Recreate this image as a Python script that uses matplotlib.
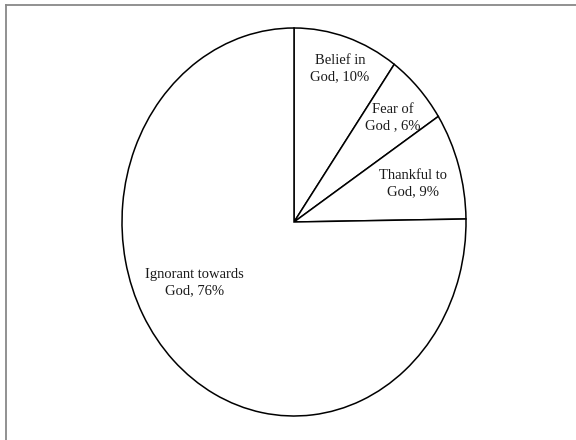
import matplotlib
matplotlib.use("Agg")
import matplotlib.pyplot as plt
from matplotlib.lines import Line2D

categories = ["Belief in\nGod, 10%", "Fear of\nGod , 6%", "Thankful to\nGod, 9%", "Ignorant towards\nGod, 76%"]
values = [10, 6, 9, 76]

# label centres in the pie's data units (radius 1)
label_xy = [(0.267, 0.791), (0.576, 0.539), (0.692, 0.198), (-0.581, -0.312)]

W, H = 576, 440
fig = plt.figure(figsize=(W / 100, H / 100), dpi=100)
fig.patch.set_facecolor("white")

# pie occupies an ellipse (stretched vertically)
left, right, top, bottom = 122, 466, 28, 416
ax = fig.add_axes([left / W, (H - bottom) / H, (right - left) / W, (bottom - top) / H])
ax.pie(values, startangle=90, counterclock=False,
       colors=["white"] * len(values),
       wedgeprops=dict(edgecolor="black", linewidth=1.1))
ax.set_aspect("auto")
ax.set_xlim(-1, 1)
ax.set_ylim(-1, 1)
ax.axis("off")

for text, (x, y) in zip(categories, label_xy):
    ax.text(x, y, text, ha="center", va="center", fontsize=10.5,
            family="Liberation Serif", color="#1a1a1a", linespacing=1.38)

# outer frame (top and left edges visible)
fig.add_artist(Line2D([6 / W, 6 / W], [0, 1 - 4.8 / H], transform=fig.transFigure,
                      color="#888888", linewidth=1.3))
fig.add_artist(Line2D([6 / W, 1], [1 - 4.8 / H, 1 - 4.8 / H], transform=fig.transFigure,
                      color="#888888", linewidth=1.3))

fig.savefig("out.png", dpi=100)
